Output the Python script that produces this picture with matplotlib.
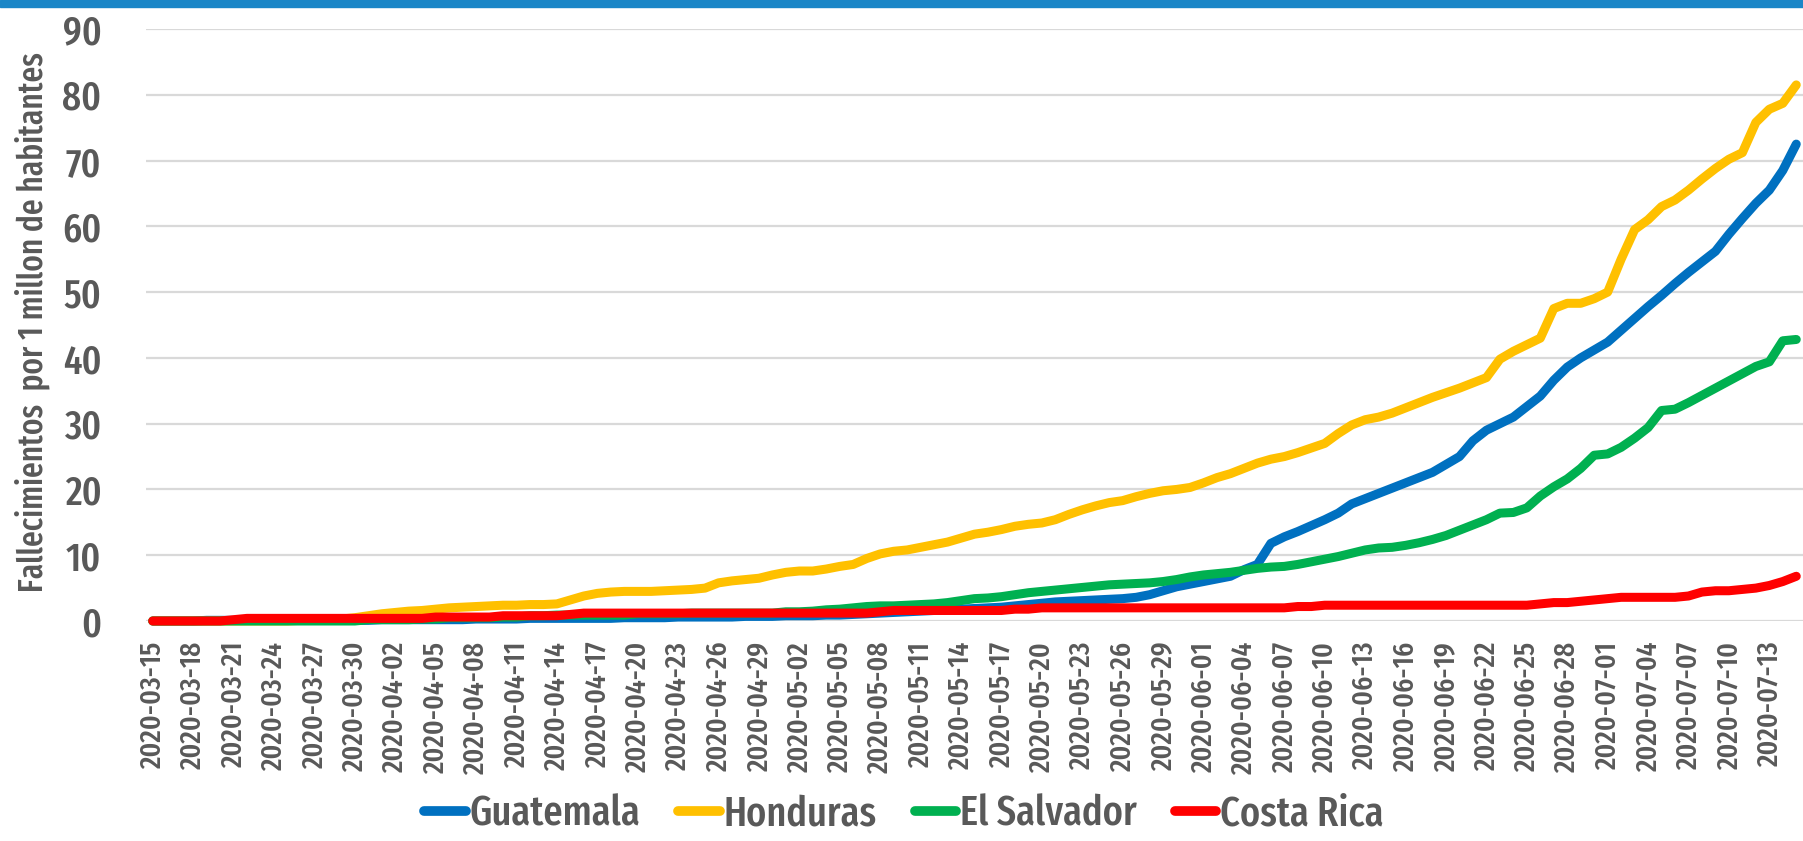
import os
import numpy as np
import pandas as pd
import matplotlib
matplotlib.use("Agg")
import matplotlib.pyplot as plt
from matplotlib import font_manager
from matplotlib.font_manager import FontProperties
from matplotlib.lines import Line2D
from matplotlib.patches import Rectangle

# daily values, deaths per 1 million inhabitants, 2020-03-15 .. 2020-07-15
dates = pd.date_range("2020-03-15", "2020-07-15", freq="D")
date_labels = [d.strftime("%Y-%m-%d") for d in dates]

guatemala = [
    0, 0, 0, 0, 0.1, 0.1, 0.1, 0.1, 0.1, 0.1,
    0.1, 0.1, 0.1, 0.1, 0.1, 0.1, 0.1, 0.2, 0.2, 0.2,
    0.2, 0.2, 0.2, 0.2, 0.3, 0.3, 0.3, 0.3, 0.4, 0.4,
    0.4, 0.4, 0.4, 0.4, 0.4, 0.5, 0.5, 0.5, 0.5, 0.6,
    0.6, 0.6, 0.6, 0.6, 0.7, 0.7, 0.7, 0.8, 0.8, 0.8,
    0.9, 0.9, 1.0, 1.1, 1.2, 1.3, 1.4, 1.5, 1.6, 1.7,
    1.8, 1.9, 2.0, 2.1, 2.3, 2.5, 2.7, 2.9, 3.0, 3.1,
    3.2, 3.3, 3.4, 3.6, 4.0, 4.6, 5.2, 5.6, 6.0, 6.4,
    6.8, 7.8, 8.6, 11.8, 12.8, 13.6, 14.5, 15.4, 16.4, 17.8,
    18.6, 19.4, 20.2, 21.0, 21.8, 22.6, 23.8, 25.0, 27.4, 29.0,
    30.0, 31.0, 32.6, 34.2, 36.6, 38.6, 40.0, 41.2, 42.4, 44.2,
    46.0, 47.8, 49.5, 51.3, 53.0, 54.6, 56.2, 58.8, 61.2, 63.5,
    65.5, 68.5, 72.5,
]
honduras = [
    0, 0, 0, 0, 0, 0, 0, 0, 0, 0,
    0, 0.1, 0.2, 0.2, 0.3, 0.5, 0.8, 1.1, 1.3, 1.5,
    1.6, 1.8, 2.0, 2.1, 2.2, 2.3, 2.4, 2.4, 2.5, 2.5,
    2.6, 3.2, 3.8, 4.2, 4.4, 4.5, 4.5, 4.5, 4.6, 4.7,
    4.8, 5.0, 5.8, 6.1, 6.3, 6.5, 7.0, 7.4, 7.6, 7.6,
    7.9, 8.3, 8.6, 9.5, 10.2, 10.6, 10.8, 11.2, 11.6, 12.0,
    12.6, 13.2, 13.5, 13.9, 14.4, 14.7, 14.9, 15.4, 16.2, 16.9,
    17.5, 18.0, 18.3, 18.9, 19.4, 19.8, 20.0, 20.3, 21.0, 21.8,
    22.4, 23.2, 24.0, 24.6, 25.0, 25.6, 26.3, 27.0, 28.5, 29.8,
    30.6, 31.0, 31.6, 32.4, 33.2, 34.0, 34.7, 35.4, 36.2, 37.0,
    39.8, 41.0, 42.0, 43.0, 47.5, 48.3, 48.3, 49.0, 50.0, 55.0,
    59.5, 61.0, 63.0, 64.0, 65.5, 67.2, 68.8, 70.2, 71.2, 75.8,
    77.8, 78.7, 81.5,
]
el_salvador = [
    0, 0, 0, 0, 0, 0, 0, 0, 0, 0,
    0, 0, 0, 0, 0, 0, 0.2, 0.2, 0.2, 0.2,
    0.3, 0.3, 0.5, 0.5, 0.5, 0.5, 0.6, 0.6, 0.8, 0.8,
    0.9, 0.9, 0.9, 0.9, 0.9, 0.9, 1.1, 1.1, 1.1, 1.1,
    1.2, 1.2, 1.2, 1.2, 1.2, 1.2, 1.2, 1.4, 1.4, 1.5,
    1.7, 1.8, 2.0, 2.2, 2.3, 2.3, 2.4, 2.5, 2.6, 2.8,
    3.1, 3.4, 3.5, 3.7, 4.0, 4.3, 4.5, 4.7, 4.9, 5.1,
    5.3, 5.5, 5.6, 5.7, 5.8, 6.0, 6.3, 6.7, 7.0, 7.2,
    7.4, 7.7, 8.0, 8.2, 8.3, 8.6, 9.0, 9.4, 9.8, 10.3,
    10.8, 11.1, 11.2, 11.5, 11.9, 12.4, 13.0, 13.8, 14.6, 15.4,
    16.4, 16.5, 17.2, 19.0, 20.4, 21.6, 23.2, 25.2, 25.4, 26.4,
    27.8, 29.4, 32.0, 32.2, 33.2, 34.3, 35.4, 36.5, 37.6, 38.7,
    39.4, 42.6, 42.8,
]
costa_rica = [
    0, 0, 0, 0, 0, 0, 0.2, 0.4, 0.4, 0.4,
    0.4, 0.4, 0.4, 0.4, 0.4, 0.4, 0.4, 0.4, 0.4, 0.4,
    0.4, 0.6, 0.6, 0.6, 0.6, 0.6, 0.8, 0.8, 0.8, 0.8,
    0.8, 1.0, 1.2, 1.2, 1.2, 1.2, 1.2, 1.2, 1.2, 1.2,
    1.2, 1.2, 1.2, 1.2, 1.2, 1.2, 1.2, 1.2, 1.2, 1.2,
    1.2, 1.2, 1.2, 1.2, 1.4, 1.6, 1.6, 1.6, 1.6, 1.6,
    1.6, 1.6, 1.6, 1.6, 1.8, 1.8, 2.0, 2.0, 2.0, 2.0,
    2.0, 2.0, 2.0, 2.0, 2.0, 2.0, 2.0, 2.0, 2.0, 2.0,
    2.0, 2.0, 2.0, 2.0, 2.0, 2.2, 2.2, 2.4, 2.4, 2.4,
    2.4, 2.4, 2.4, 2.4, 2.4, 2.4, 2.4, 2.4, 2.4, 2.4,
    2.4, 2.4, 2.4, 2.6, 2.8, 2.8, 3.0, 3.2, 3.4, 3.6,
    3.6, 3.6, 3.6, 3.6, 3.8, 4.4, 4.6, 4.6, 4.8, 5.0,
    5.4, 6.0, 6.8,
]

series = [
    ("Guatemala", guatemala, "#0070c0"),
    ("Honduras", honduras, "#ffc000"),
    ("El Salvador", el_salvador, "#00b050"),
    ("Costa Rica", costa_rica, "#ff0000"),
]
y_ticks = list(range(0, 91, 10))
y_title = "Fallecimientos  por 1 millon de habitantes"


def find_narrow_file():
    # regular-weight condensed face, narrowest first; then a medium cut of it if there is one
    skip = ("bold", "italic", "light", "medium", "semi", "black", "thin", "heavy", "oblique")
    files = sorted(f.fname for f in font_manager.fontManager.ttflist)
    for key in ("extracondensed", "narrow", "condensed"):
        for fn in files:
            b = os.path.basename(fn).lower()
            if key in b and not any(s in b.replace(key, "") for s in skip):
                stem = os.path.splitext(b)[0].replace("-regular", "").replace("_regular", "")
                for fm in files:
                    bm = os.path.basename(fm).lower()
                    if bm.startswith(stem) and "medium" in bm and "italic" not in bm \
                            and "semi" not in bm.replace(key, ""):
                        return fm
                return fn
    return None


NARROW = find_narrow_file()


def narrow_font(size):
    if NARROW:
        return FontProperties(fname=NARROW, size=size)
    return FontProperties(family="DejaVu Sans", stretch="condensed", size=size)


grey = "#595959"

W, H = 1803, 841
fig = plt.figure(figsize=(W / 100, H / 100), dpi=100)
fig.patches.append(Rectangle((0, 1 - 7 / H), 1, 7 / H, transform=fig.transFigure,
                             color="#1a86c7", zorder=5))

left, right, bottom, top = 146, 1803, 621, 29
ax = fig.add_axes([left / W, 1 - bottom / H, (right - left) / W, (bottom - top) / H])

x = np.arange(len(dates))
for name, vals, col in series:
    ax.plot(x, vals, color=col, lw=6.5, solid_capstyle="round", solid_joinstyle="round",
            label=name, clip_on=False)

ax.set_xlim(-0.5, len(dates) - 0.5)
ax.set_ylim(0, 90)
ax.set_yticks(y_ticks)
ax.set_yticklabels([str(v) for v in y_ticks], color=grey, fontproperties=narrow_font(29))
ax.set_xticks(x[::3])
ax.set_xticklabels(date_labels[::3], rotation=90, color=grey,
                   fontproperties=narrow_font(21.5))
ax.tick_params(axis="both", length=0)
ax.tick_params(axis="y", pad=32)
ax.tick_params(axis="x", pad=15)
ax.yaxis.grid(True, color="#d9d9d9", lw=1.6)
ax.set_axisbelow(True)
for s in ax.spines.values():
    s.set_visible(False)

ax.set_ylabel(y_title, color=grey, fontproperties=narrow_font(24.5))
ax.yaxis.set_label_coords(-0.058, 0.505)

handles = [Line2D([0], [0], color=c, lw=7, solid_capstyle="round") for _, _, c in series]
fig.legend(handles, [n for n, _, _ in series], loc="center",
           bbox_to_anchor=(904 / W, 1 - 814 / H), ncol=4, frameon=False,
           handlelength=1.0, handletextpad=0.1, columnspacing=0.9,
           prop=narrow_font(30), labelcolor=grey)

fig.savefig("out.png", dpi=100, facecolor="white")
